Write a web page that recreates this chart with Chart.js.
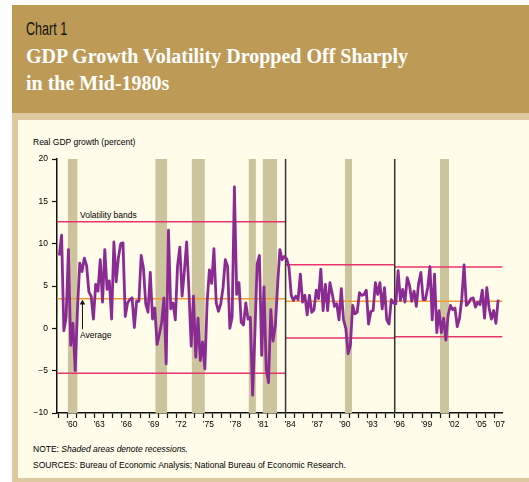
<!DOCTYPE html>
<html>
<head>
<meta charset="utf-8">
<script src="https://cdn.jsdelivr.net/npm/chart.js@4.4.0/dist/chart.umd.min.js"></script>
<style>
  html, body { margin: 0; padding: 0; background: #ffffff; }
  body { width: 529px; height: 482px; position: relative; overflow: hidden; }
  .abs { position: absolute; white-space: nowrap; }
  #header { left: 12px; top: 5px; width: 517px; height: 108px; background: #BE9A57; }
  #frame { left: 12px; top: 113px; width: 517px; height: 369px; background: #DEC8A0; }
  #panel { left: 18px; top: 120px; width: 511px; height: 358px; background: #FFFCE9; }
  #kicker { left: 26px; top: 19px; font-family: "Liberation Sans", Arial, sans-serif; font-size: 19px; line-height: 19px; color: #111; transform: scaleX(0.66); transform-origin: 0 0; }
  .title { font-family: "Liberation Serif", "Times New Roman", serif; font-weight: bold; font-size: 20px; line-height: 20px; color: #ffffff; left: 26px; }
  .small { font-family: "Liberation Sans Narrow", "Liberation Sans", Arial, sans-serif; font-size: 8.5px; line-height: 8.5px; color: #000; }
  canvas { position: absolute; left: 0; top: 0; }
</style>
</head>
<body>
<div id="header" class="abs"></div>
<div id="frame" class="abs"></div>
<div id="panel" class="abs"></div>
<div id="kicker" class="abs">Chart 1</div>
<div class="abs title" style="top:46px;">GDP Growth Volatility Dropped Off Sharply</div>
<div class="abs title" style="top:73px;">in the Mid-1980s</div>
<div class="abs small" style="left:33px; top:138px;">Real GDP growth (percent)</div>
<div class="abs small" style="left:80px; top:211px;">Volatility bands</div>
<div class="abs small" style="left:80px; top:331px;">Average</div>
<div class="abs small" style="left:33px; top:445px;">NOTE: <i>Shaded areas denote recessions.</i></div>
<div class="abs small" style="left:33px; top:461px;">SOURCES: Bureau of Economic Analysis; National Bureau of Economic Research.</div>
<canvas id="c" width="529" height="482"></canvas>
<script>
// ---- Data ----
const startYear = 1959; // first quarter: 1959Q1
// Real GDP growth, quarterly, annualized percent (1959Q1 .. 2007Q2)
const gdpGrowth = [
  8.6, 11.0, -0.3, 1.3,     // 1959
  9.3, -2.0, 0.6, -5.0,     // 1960
  2.4, 7.7, 6.7, 8.3,       // 1961
  7.4, 4.3, 3.8, 1.1,       // 1962
  5.2, 4.4, 8.1, 3.1,       // 1963
  9.3, 4.6, 5.6, 1.1,       // 1964
  10.2, 5.5, 8.4, 10.0,     // 1965
  10.1, 1.4, 3.0, 3.4,      // 1966
  3.6, 0.1, 3.2, 3.2,       // 1967
  8.6, 7.1, 2.9, 1.9,       // 1968
  6.6, 1.1, 2.4, -1.9,      // 1969
  -0.7, 0.7, 3.6, -4.2,     // 1970
  11.6, 2.3, 3.0, 1.0,      // 1971
  7.4, 9.6, 3.8, 6.8,       // 1972
  10.2, 4.4, -2.1, 3.8,     // 1973
  -3.4, 1.2, -3.8, -1.6,    // 1974
  -4.8, 3.1, 6.9, 5.3,      // 1975
  9.4, 3.0, 2.0, 2.9,       // 1976
  4.8, 8.1, 7.3, 0.0,       // 1977
  1.3, 16.7, 4.0, 5.4,      // 1978
  0.7, 0.4, 3.0, 1.1,       // 1979
  1.3, -7.9, -0.7, 7.6,     // 1980
  8.6, -3.2, 4.9, -4.9,     // 1981
  -6.4, 2.2, -1.5, 0.3,     // 1982
  5.1, 9.3, 8.1, 8.5,       // 1983
  8.2, 7.2, 3.9, 3.3,       // 1984
  3.8, 3.4, 6.4, 3.1,       // 1985
  3.9, 1.6, 3.9, 1.9,       // 1986
  2.2, 4.5, 3.5, 7.0,       // 1987
  2.1, 5.2, 2.1, 5.4,       // 1988
  4.1, 2.6, 2.9, 1.0,       // 1989
  4.7, 1.0, 0.0, -3.0,      // 1990
  -2.0, 2.7, 1.7, 1.9,      // 1991
  4.2, 3.9, 4.0, 4.5,       // 1992
  0.5, 2.0, 2.1, 5.4,       // 1993
  4.0, 5.4, 2.3, 4.8,       // 1994
  1.0, 0.5, 3.4, 3.0,       // 1995
  2.9, 6.8, 3.3, 4.6,       // 1996
  3.1, 6.0, 5.1, 3.2,       // 1997
  4.4, 2.6, 5.3, 6.6,       // 1998
  3.4, 3.4, 4.8, 7.3,       // 1999
  1.0, 6.4, -0.5, 2.1,      // 2000
  -0.5, 1.2, -1.4, 1.6,     // 2001
  2.7, 2.2, 2.4, 0.2,       // 2002
  1.2, 3.5, 7.5, 2.7,       // 2003
  3.0, 3.5, 3.6, 2.5,       // 2004
  3.1, 2.8, 4.5, 1.2,       // 2005
  4.8, 2.4, 1.1, 2.1,       // 2006
  0.6, 3.4                  // 2007
];
// Periods split at the dividers
const periodBounds = [1958.87, 1984.0, 1996.0, 2007.85];
const bandUpper = [12.6, 7.5, 7.25];
const bandLower = [-5.3, -1.15, -1.0];
const periodAverage = [3.5, 3.2, 3.2];
const dividerYears = [1984.0, 1996.0];
// Recessions (start, end) in decimal years
const recessionStart = [1960.04, 1969.67, 1973.67, 1979.93, 1981.47, 1990.52, 2000.96];
const recessionEnd   = [1961.14, 1970.99, 1975.13, 1980.74, 1983.08, 1991.32, 2001.98];
// Axis ticks and labels
const yTicks = [-10, -5, 0, 5, 10, 15, 20];
const xTickYears = [1960, 1963, 1966, 1969, 1972, 1975, 1978, 1981, 1984, 1987, 1990, 1993, 1996, 1999, 2002, 2005, 2007];
const xTickLabels = ["\u201960", "\u201963", "\u201966", "\u201969", "\u201972", "\u201975", "\u201978", "\u201981", "\u201984", "\u201987", "\u201990", "\u201993", "\u201996", "\u201999", "\u201902", "\u201905", "\u201907"];
const arrowYear = 1961.67;
const arrowFrom = -0.1, arrowTo = 3.0;

// ---- Build chart ----
const yMin = -10, yMax = 20;
const xMin = periodBounds[0], xMax = periodBounds[periodBounds.length - 1];

const datasets = [];
datasets.push({
  label: 'Real GDP growth',
  data: gdpGrowth.map((v, i) => ({ x: startYear + (i + 0.5) / 4, y: v })),
  borderColor: '#8A2B93', borderWidth: 2.8, pointRadius: 0, tension: 0,
  borderJoinStyle: 'round', fill: false, order: 0
});
for (let p = 0; p < bandUpper.length; p++) {
  const a = periodBounds[p], b = periodBounds[p + 1];
  datasets.push({ data: [{x: a, y: bandUpper[p]}, {x: b, y: bandUpper[p]}], borderColor: '#E8346C', borderWidth: 1.5, pointRadius: 0, fill: false, order: 2 });
  datasets.push({ data: [{x: a, y: bandLower[p]}, {x: b, y: bandLower[p]}], borderColor: '#E8346C', borderWidth: 1.5, pointRadius: 0, fill: false, order: 2 });
  datasets.push({ data: [{x: a, y: periodAverage[p]}, {x: b, y: periodAverage[p]}], borderColor: '#F39B2E', borderWidth: 1.5, pointRadius: 0, fill: false, order: 2 });
}
dividerYears.forEach(d => {
  datasets.push({ data: [{x: d, y: yMin}, {x: d, y: yMax}], borderColor: '#333333', borderWidth: 1.5, pointRadius: 0, fill: false, order: 1 });
});
recessionStart.forEach((s, i) => {
  datasets.push({ data: [{x: s, y: yMax}, {x: recessionEnd[i], y: yMax}], borderWidth: 0, borderColor: 'rgba(0,0,0,0)', backgroundColor: '#CCC49C', pointRadius: 0, fill: {value: yMin}, order: 9 });
});
datasets.push({
  data: [{x: arrowYear, y: arrowFrom}, {x: arrowYear, y: arrowTo}],
  borderColor: '#111', borderWidth: 1, fill: false, order: 1,
  pointRadius: [0, 3.2], pointStyle: 'triangle', pointBackgroundColor: '#111', pointBorderWidth: 0
});

Chart.defaults.font.family = '"Liberation Sans Narrow", "Liberation Sans", Arial, sans-serif';
Chart.defaults.font.size = 8.5;
Chart.defaults.color = '#000';

new Chart(document.getElementById('c'), {
  type: 'line',
  data: { datasets },
  options: {
    responsive: false, animation: false,
    layout: { padding: { left: 0, top: 159, right: 26.5, bottom: 0 } },
    plugins: { legend: { display: false }, tooltip: { enabled: false } },
    scales: {
      x: {
        type: 'linear', min: xMin, max: xMax,
        afterFit: (s) => { s.height = 69; },
        afterBuildTicks: (s) => {
          const t = [];
          for (let y = startYear; y <= 2007; y++) t.push({ value: y });
          xTickYears.forEach(y => t.push({ value: y + 0.5 }));
          t.sort((a, b) => a.value - b.value);
          s.ticks = t;
        },
        ticks: {
          autoSkip: false, maxRotation: 0, minRotation: 0, padding: 2,
          callback: (v) => { const i = xTickYears.indexOf(v - 0.5); return i >= 0 ? xTickLabels[i] : ''; }
        },
        grid: {
          drawOnChartArea: false, drawTicks: true, tickLength: 5, tickWidth: 1.2,
          tickColor: (ctx) => (ctx.tick && Number.isInteger(ctx.tick.value)) ? '#111' : 'rgba(0,0,0,0)'
        },
        border: { display: true, color: '#111', width: 1.5 }
      },
      y: {
        min: yMin, max: yMax,
        afterFit: (s) => { s.width = 57; },
        afterBuildTicks: (s) => { s.ticks = yTicks.map(v => ({ value: v })); },
        ticks: { padding: 4, callback: (v) => v < 0 ? '\u2212' + Math.abs(v) : String(v) },
        grid: { drawOnChartArea: false, drawTicks: true, tickLength: 5, tickWidth: 1.2, tickColor: '#111' },
        border: { display: true, color: '#111', width: 1.5 }
      }
    }
  }
});
</script>
</body>
</html>
